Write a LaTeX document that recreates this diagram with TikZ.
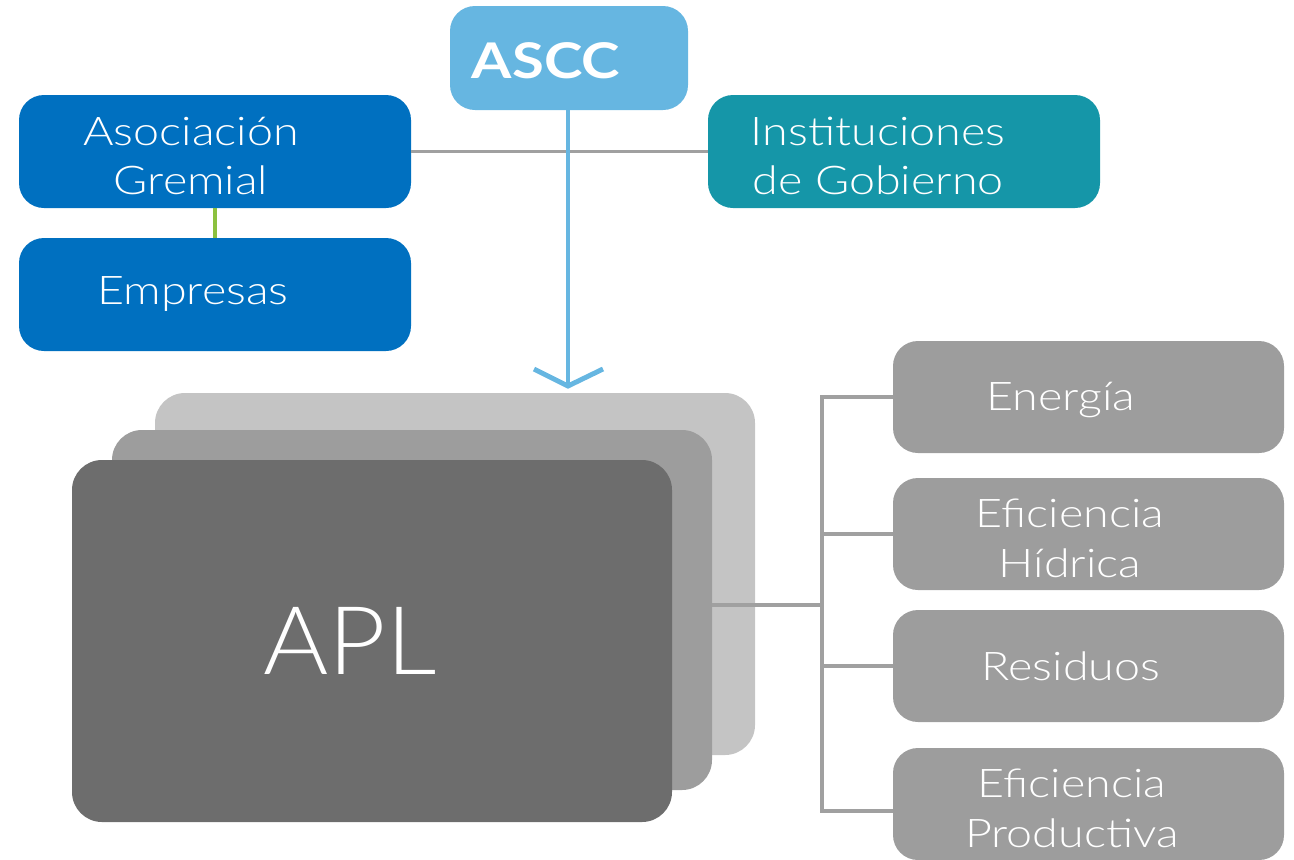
\documentclass[tikz,border=0pt]{standalone}
\usepackage{fontspec}
\setmainfont{Lato}[UprightFont={* Light}, BoldFont={* Bold}, FakeStretch=1.18]
\newfontfamily\aplfont{Lato}[UprightFont={* Light}, FakeStretch=1.05]
\definecolor{asccblue}{HTML}{66B6E1}
\definecolor{darkblue}{HTML}{0070C0}
\definecolor{teal}{HTML}{1596A8}
\definecolor{lgreen}{HTML}{8CC13F}
\definecolor{lgray}{HTML}{A0A0A0}
\definecolor{backgray}{HTML}{C4C4C4}
\definecolor{midgray}{HTML}{9D9D9D}
\definecolor{frontgray}{HTML}{6D6D6D}
\def\pxu{0.02cm}
\tikzset{
  box/.style={rectangle, rounded corners=0.5cm, inner sep=0pt, draw=none},
  txt/.style={text=white, align=center, inner sep=0pt, font=\fontsize{22.5}{28.3}\selectfont},
  conn/.style={draw=lgray, line width=2.8pt},
  thinconn/.style={draw=lgray, line width=1.7pt},
}
\begin{document}
\begin{tikzpicture}[x=0.02cm, y=-0.02cm]
\useasboundingbox (0,0) rectangle (1294,859);
% stacked APL cards
\node[box, rounded corners=0.6cm, fill=backgray, minimum width=600*\pxu, minimum height=362*\pxu] (back) at (455,574) {};
\node[box, rounded corners=0.6cm, fill=midgray, minimum width=600*\pxu, minimum height=360*\pxu] (mid) at (412,610) {};
\node[box, rounded corners=0.6cm, fill=frontgray, minimum width=600*\pxu, minimum height=362*\pxu] (front) at (372,641) {};
\node[txt, font=\aplfont\fontsize{54}{58}\selectfont] (apl-t) at (350,641) {APL};
% top boxes
\node[box, fill=asccblue, minimum width=238*\pxu, minimum height=104*\pxu] (ascc) at (569,58) {};
\node[txt, font=\fontsize{28}{32}\selectfont\bfseries] (ascc-t) at (546,61) {ASCC};
\node[box, fill=darkblue, minimum width=392*\pxu, minimum height=113*\pxu] (ag) at (215,151.5) {};
\node[txt] (ag-t) at (191,156) {Asociación\\Gremial};
\node[box, fill=darkblue, minimum width=392*\pxu, minimum height=113*\pxu] (emp) at (215,294.5) {};
\node[txt] (emp-t) at (193,294) {Empresas};
\node[box, fill=teal, minimum width=392*\pxu, minimum height=113*\pxu] (inst) at (904,151.5) {};
\node[txt] (inst-t) at (878,156) {Instituciones\\de Gobierno};
% right boxes
\node[box, fill=midgray, minimum width=391*\pxu, minimum height=112*\pxu] (en) at (1088.5,397) {};
\node[txt] (en-t) at (1061,400) {Energía};
\node[box, fill=midgray, minimum width=391*\pxu, minimum height=112*\pxu] (hid) at (1088.5,534) {};
\node[txt] (hid-t) at (1070,538) {Eficiencia\\Hídrica};
\node[box, fill=midgray, minimum width=391*\pxu, minimum height=112*\pxu] (res) at (1088.5,666) {};
\node[txt] (res-t) at (1071,666) {Residuos};
\node[box, fill=midgray, minimum width=391*\pxu, minimum height=112*\pxu] (prod) at (1088.5,804) {};
\node[txt] (prod-t) at (1072,808) {Eficiencia\\Productiva};
% connectors
\draw[thinconn] (ag.east) -- (inst.west);
\draw[draw=lgreen, line width=2.8pt] (ag.south) -- (emp.north);
\coordinate (tip) at (568,386);
\draw[draw=asccblue, line width=2.8pt] (ascc.south -| tip) -- (tip);
\draw[draw=asccblue, line width=2.8pt, line join=miter] ([shift={(-34,-17)}]tip) -- (tip) -- ([shift={(35,-17)}]tip);
\coordinate (bus) at (822,605);
\coordinate (bt) at (822,397);
\coordinate (bb) at (822,811);
\coordinate (pb) at (893,811);
\draw[conn] (mid.east |- bus) -- (bus);
\draw[conn] (en.west) -- (bt) -- (bb) -- (pb);
\draw[conn] (hid.west) -- (hid.west -| bus);
\draw[conn] (res.west) -- (res.west -| bus);
\end{tikzpicture}
\end{document}
